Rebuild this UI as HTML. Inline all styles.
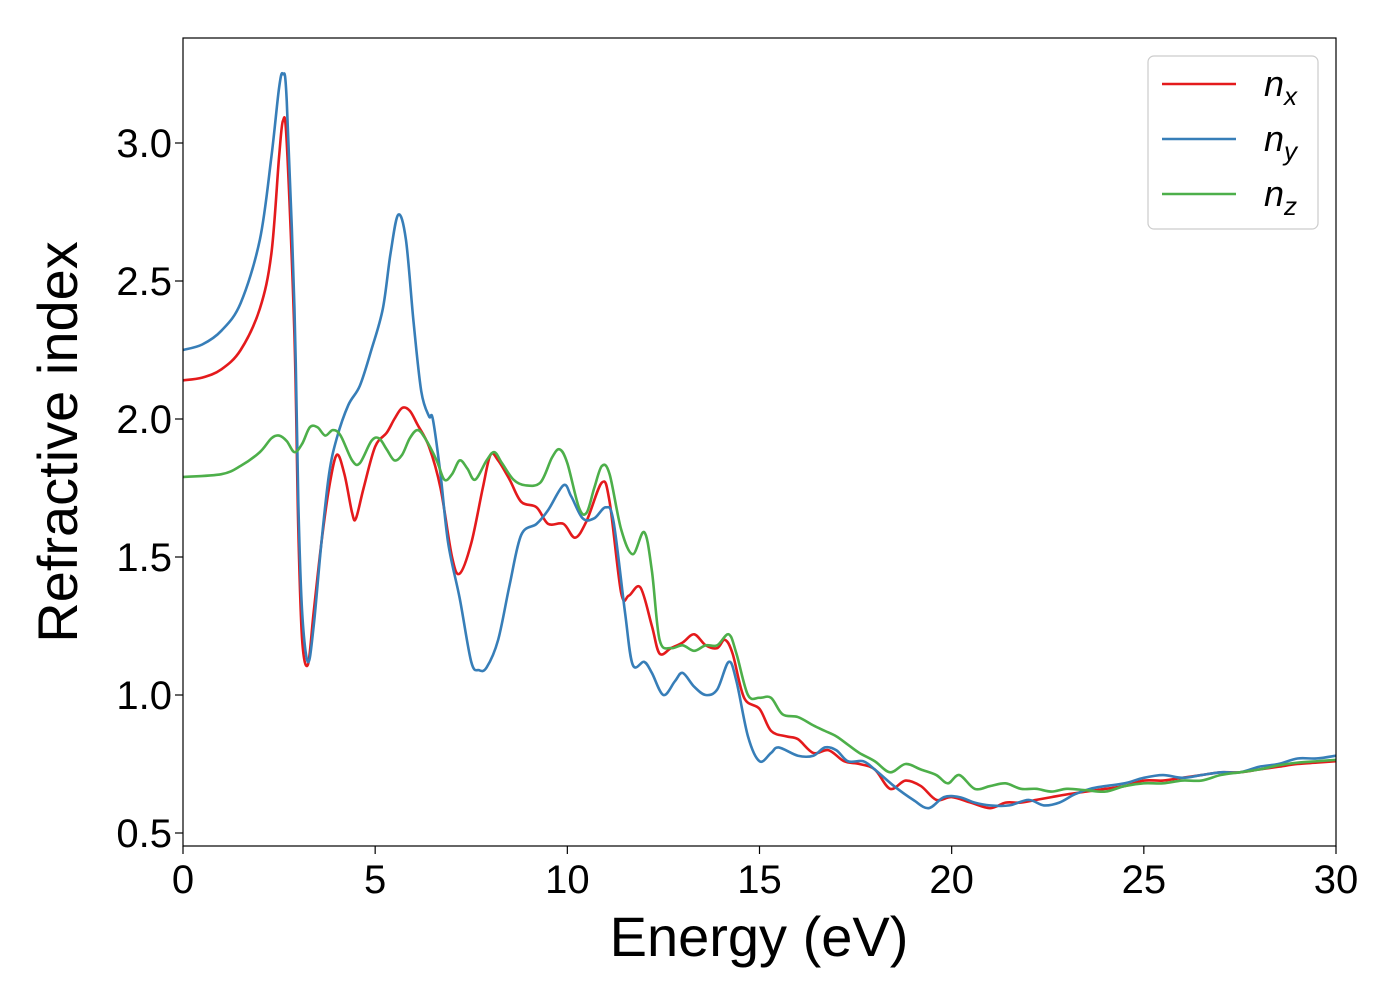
<!DOCTYPE html>
<html><head><meta charset="utf-8"><style>
body{margin:0;background:#fff}
svg{font-family:"Liberation Sans","DejaVu Sans",sans-serif}
</style></head><body>
<svg width="1400" height="1000" viewBox="0 0 1400 1000">
<g id="grid"></g>
<g id="series"></g>
<g id="axes"></g>
<g id="legend"></g>
</svg>
<script>
const xTicks=[0,5,10,15,20,25,30];
const yTicks=[0.5,1.0,1.5,2.0,2.5,3.0];
const yTickLabels=["0.5","1.0","1.5","2.0","2.5","3.0"];
const nxE=[0,0.5,1,1.5,2,2.3,2.5,2.6,2.7,2.9,3.0,3.1,3.25,3.4,3.6,3.8,4.0,4.2,4.4,4.5,4.7,5.0,5.3,5.5,5.7,5.9,6.1,6.4,6.7,7.0,7.2,7.5,7.8,8.0,8.2,8.5,8.8,9.2,9.5,9.9,10.2,10.5,10.9,11.1,11.4,11.6,11.9,12.2,12.4,12.7,13.0,13.3,13.6,13.9,14.1,14.3,14.6,15.0,15.3,15.7,16.0,16.4,16.8,17.2,17.6,18.0,18.4,18.8,19.2,19.6,20.0,20.5,21.0,21.4,21.8,22.2,22.6,23,23.5,24,24.5,25,25.5,26,26.5,27,27.5,28,28.5,29,29.5,30];
const nxV=[2.14,2.15,2.18,2.25,2.4,2.6,2.95,3.08,3.0,2.3,1.6,1.2,1.11,1.3,1.55,1.75,1.87,1.8,1.66,1.64,1.75,1.9,1.95,2.0,2.04,2.03,1.98,1.9,1.75,1.5,1.44,1.55,1.75,1.87,1.85,1.78,1.7,1.68,1.62,1.62,1.57,1.63,1.77,1.7,1.37,1.36,1.39,1.25,1.15,1.17,1.19,1.22,1.18,1.17,1.2,1.15,0.99,0.95,0.87,0.85,0.84,0.79,0.80,0.76,0.75,0.73,0.66,0.69,0.67,0.62,0.63,0.61,0.59,0.61,0.61,0.62,0.63,0.64,0.65,0.66,0.67,0.69,0.69,0.70,0.71,0.72,0.72,0.73,0.74,0.75,0.755,0.76];
const nyE=[0,0.5,1,1.5,2,2.3,2.5,2.6,2.7,2.9,3.0,3.1,3.25,3.4,3.6,3.8,4.0,4.3,4.6,4.9,5.2,5.4,5.6,5.8,6.0,6.2,6.4,6.5,6.7,6.9,7.2,7.5,7.7,7.9,8.2,8.5,8.8,9.2,9.5,9.9,10.1,10.4,10.7,11.0,11.2,11.5,11.7,12.0,12.2,12.5,12.8,13.0,13.3,13.6,13.9,14.2,14.4,14.7,15.0,15.3,15.5,16,16.4,16.7,17,17.3,17.7,18.0,18.5,19.0,19.4,19.8,20.2,20.6,21,21.5,22,22.4,22.8,23.2,23.6,24,24.5,25,25.5,26,26.5,27,27.5,28,28.5,29,29.5,30];
const nyV=[2.25,2.27,2.32,2.42,2.65,2.95,3.2,3.25,3.15,2.4,1.7,1.3,1.12,1.25,1.55,1.8,1.93,2.05,2.12,2.25,2.4,2.6,2.74,2.65,2.35,2.1,2.01,2.0,1.8,1.55,1.35,1.12,1.09,1.1,1.2,1.4,1.58,1.62,1.67,1.76,1.72,1.64,1.64,1.68,1.63,1.3,1.11,1.12,1.08,1.0,1.05,1.08,1.03,1.0,1.02,1.12,1.05,0.85,0.76,0.79,0.81,0.78,0.78,0.81,0.80,0.76,0.76,0.73,0.67,0.62,0.59,0.63,0.63,0.61,0.6,0.6,0.62,0.60,0.61,0.64,0.66,0.67,0.68,0.7,0.71,0.70,0.71,0.72,0.72,0.74,0.75,0.77,0.77,0.78];
const nzE=[0,1,1.5,2,2.3,2.5,2.7,2.9,3.1,3.3,3.5,3.7,3.9,4.1,4.4,4.6,4.9,5.1,5.3,5.5,5.7,5.9,6.1,6.3,6.6,6.8,7.0,7.2,7.4,7.6,7.9,8.1,8.3,8.6,8.9,9.3,9.6,9.8,10.0,10.3,10.5,10.7,10.9,11.1,11.4,11.7,12.0,12.2,12.4,12.7,13.0,13.3,13.6,13.9,14.2,14.4,14.7,15.0,15.3,15.6,16.0,16.4,16.7,17.0,17.3,17.6,18.0,18.4,18.8,19.2,19.6,19.9,20.2,20.6,21,21.4,21.8,22.2,22.6,23,23.5,24,24.5,25,25.5,26,26.5,27,27.5,28,28.5,29,29.5,30];
const nzV=[1.79,1.80,1.83,1.88,1.93,1.94,1.92,1.88,1.91,1.97,1.97,1.94,1.96,1.94,1.85,1.84,1.92,1.93,1.89,1.85,1.87,1.93,1.96,1.93,1.85,1.78,1.8,1.85,1.82,1.78,1.85,1.88,1.84,1.78,1.76,1.77,1.86,1.89,1.84,1.68,1.66,1.75,1.83,1.8,1.6,1.51,1.59,1.45,1.2,1.17,1.18,1.16,1.18,1.18,1.22,1.15,1.0,0.99,0.99,0.93,0.92,0.89,0.87,0.85,0.82,0.79,0.76,0.72,0.75,0.73,0.71,0.68,0.71,0.66,0.67,0.68,0.66,0.66,0.65,0.66,0.655,0.65,0.67,0.68,0.68,0.69,0.69,0.71,0.72,0.73,0.745,0.755,0.76,0.765];

const NS="http://www.w3.org/2000/svg";
const L=183,R=1336,T=38,B=846;
const X=v=>L+(v-0)/30*(R-L);
const Y=v=>143+(3.0-v)*276;
function mk(tag,attrs,parent){const e=document.createElementNS(NS,tag);for(const k in attrs)e.setAttribute(k,attrs[k]);parent.appendChild(e);return e;}
function smooth(xs,ys){const p=xs.map((x,i)=>[X(x),Y(ys[i])]);let d=`M${p[0][0]},${p[0][1]}`;
for(let i=0;i<p.length-1;i++){const p0=p[Math.max(0,i-1)],p1=p[i],p2=p[i+1],p3=p[Math.min(p.length-1,i+2)];
const c1=[p1[0]+(p2[0]-p0[0])/6,p1[1]+(p2[1]-p0[1])/6],c2=[p2[0]-(p3[0]-p1[0])/6,p2[1]-(p3[1]-p1[1])/6];
d+=`C${c1[0]},${c1[1]} ${c2[0]},${c2[1]} ${p2[0]},${p2[1]}`;}return d;}
const sg=document.getElementById('series');
const ser=[["series-nx",nxE,nxV,"#e41a1c"],["series-ny",nyE,nyV,"#377eb8"],["series-nz",nzE,nzV,"#4daf4a"]];
const clip=mk('clipPath',{id:'pc'},sg);mk('rect',{x:L,y:T,width:R-L,height:B-T},clip);
ser.forEach(s=>{const p=mk('path',{d:smooth(s[1],s[2]),fill:'none',stroke:s[3],'stroke-width':2.6,'stroke-linejoin':'round','clip-path':'url(#pc)'},sg);

});
const ax=document.getElementById('axes');
const fr=mk('rect',{x:L,y:T,width:R-L,height:B-T,fill:'none',stroke:'#000','stroke-width':1.2},ax);


xTicks.forEach(t=>{mk('line',{x1:X(t),x2:X(t),y1:B,y2:B+8,stroke:'#000','stroke-width':1.2},ax);
const tx=mk('text',{x:X(t),y:893,'text-anchor':'middle','font-size':40},ax);tx.textContent=t;

});
yTicks.forEach((t,i)=>{mk('line',{x1:L-8,x2:L,y1:Y(t),y2:Y(t),stroke:'#000','stroke-width':1.2},ax);
const tx=mk('text',{x:172,y:Y(t)+14,'text-anchor':'end','font-size':40},ax);tx.textContent=yTickLabels[i];

});
const xt=mk('text',{x:759,y:956,'text-anchor':'middle','font-size':56},ax);xt.textContent='Energy (eV)';


const yt=mk('text',{x:0,y:0,'text-anchor':'middle','font-size':56,transform:'translate(77,442) rotate(-90)'},ax);yt.textContent='Refractive index';


const lg=document.getElementById('legend');


mk('rect',{x:1148,y:56,width:170,height:173,rx:6,fill:'#fff',stroke:'#ccc','stroke-width':1.2},lg);
const subs=["x","y","z"];
ser.forEach((s,i)=>{const y=84+i*55;
mk('line',{x1:1162,x2:1236,y1:y,y2:y,stroke:s[3],'stroke-width':2.6},lg);
const t=mk('text',{x:1264,y:y+12,'font-size':36,'font-style':'italic'},lg);


t.textContent='n';const ts=mk('tspan',{dy:9,'font-size':26},t);ts.textContent=subs[i];});
</script>
</body></html>
